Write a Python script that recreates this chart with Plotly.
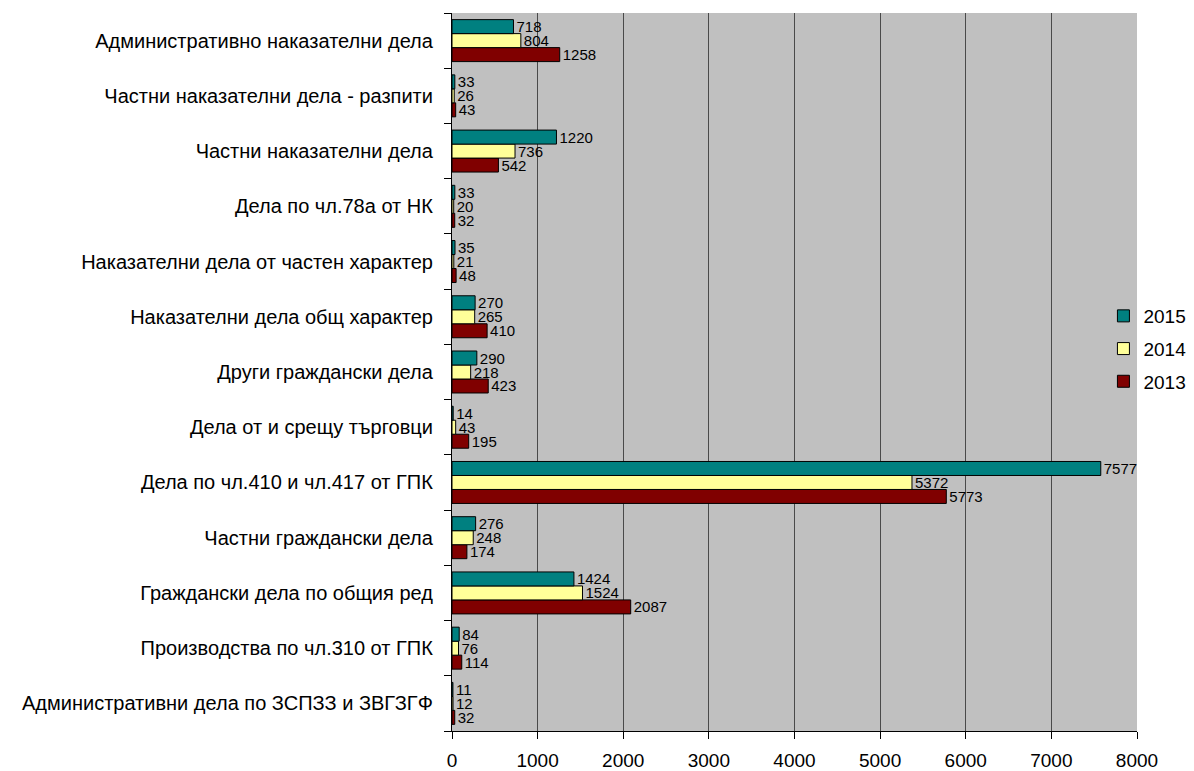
import plotly.graph_objects as go

# categories listed bottom -> top
categories = [
    "Административни дела по ЗСПЗЗ и ЗВГЗГФ",
    "Производства по чл.310 от ГПК",
    "Граждански дела по общия ред",
    "Частни граждански дела",
    "Дела по чл.410 и чл.417 от ГПК",
    "Дела от и срещу търговци",
    "Други граждански дела",
    "Наказателни дела общ характер",
    "Наказателни дела от частен характер",
    "Дела по чл.78а от НК",
    "Частни наказателни дела",
    "Частни наказателни дела - разпити",
    "Административно наказателни дела",
]
values_2015 = [11, 84, 1424, 276, 7577, 14, 290, 270, 35, 33, 1220, 33, 718]
values_2014 = [12, 76, 1524, 248, 5372, 43, 218, 265, 21, 20, 736, 26, 804]
values_2013 = [32, 114, 2087, 174, 5773, 195, 423, 410, 48, 32, 542, 43, 1258]
x_ticks = [0, 1000, 2000, 3000, 4000, 5000, 6000, 7000, 8000]

FONT = "Liberation Sans, Arial, sans-serif"

series = [
    ("2013", values_2013, "#800000", 3),
    ("2014", values_2014, "#FFFF99", 2),
    ("2015", values_2015, "#008080", 1),
]

fig = go.Figure()
for name, vals, color, rank in series:
    fig.add_trace(go.Bar(
        y=categories, x=vals, name=name, orientation="h",
        legendgroup=name, legendrank=rank,
        marker=dict(color=color, line=dict(color="#000000", width=1)),
        text=[str(v) for v in vals], textposition="outside",
        textfont=dict(family=FONT, size=15, color="#000000"),
        constraintext="none", cliponaxis=False,
    ))

# page body has an 8px margin: figure is shrunk so the plot lands where the reference has it
fig.update_layout(
    width=1186, height=763,
    margin=dict(l=444, r=57, t=5, b=40, autoexpand=False),
    barmode="group", bargap=0.24, bargroupgap=0,
    plot_bgcolor="#C0C0C0", paper_bgcolor="#FFFFFF",
    font=dict(family=FONT, size=20, color="#000000"),
    showlegend=True,
    legend=dict(
        traceorder="grouped", tracegroupgap=5,
        x=0.951, xanchor="left", y=0.532, yanchor="middle",
        bgcolor="rgba(255,255,255,0)", font=dict(family=FONT, size=19),
        itemwidth=30,
    ),
    xaxis=dict(
        range=[0, 8000], tickvals=x_ticks, ticktext=[str(t) for t in x_ticks],
        showgrid=True, gridcolor="#4a4a4a", gridwidth=1, zeroline=False,
        showline=True, linecolor="#000000", linewidth=1,
        ticks="outside", ticklen=7, tickcolor="#000000",
        tickfont=dict(family=FONT, size=19), ticklabelstandoff=5,
    ),
    yaxis=dict(
        categoryorder="array", categoryarray=categories,
        showline=True, linecolor="#000000", linewidth=1,
        ticks="outside", ticklen=7, tickcolor="#000000", tickson="boundaries",
        showgrid=False, tickfont=dict(family=FONT, size=20), ticksuffix="  ",
        ticklabelstandoff=3,
    ),
)

fig.write_html("out.html")
